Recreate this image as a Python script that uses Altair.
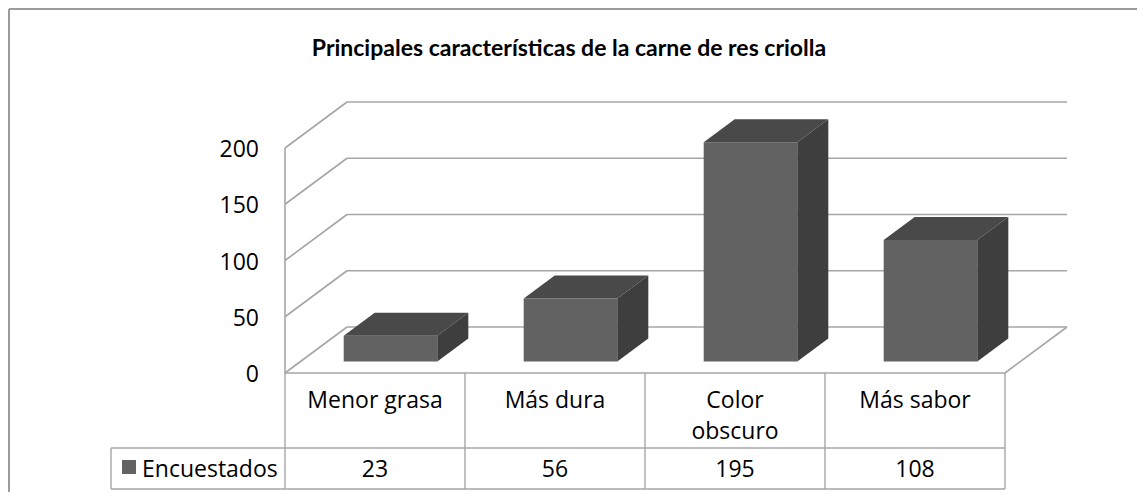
import altair as alt
import pandas as pd

# ---------------- data ----------------
categories = ["Menor grasa", "Más dura", "Color obscuro", "Más sabor"]
category_lines = ["Menor grasa", "Más dura", "Color\nobscuro", "Más sabor"]
values = [23, 56, 195, 108]
series_name = "Encuestados"
y_ticks = [0, 50, 100, 150, 200]
title_text = "Principales características de la carne de res criolla"

# ---------------- layout (pixels) ----------------
W, H = 1129, 484            # plot area (page offset 8px)
PX_PER_CAT = 180.0          # width of one category on the front plane
PX_PER_UNIT = 1.125         # pixels per value unit
ORIGIN_X = 285 - 8          # front axis position
ORIGIN_Y = 373 - 8          # zero line position
DEPTH_PX = (62, 46)         # oblique depth of the floor
BAR_W = 0.52                # bar width as share of a category

FONT = "Open Sans"
GRID = "#a6a6a6"
FRONT, TOP, SIDE = "#626262", "#494949", "#3e3e3e"

def xp(page_px):
    return (page_px - 8 - ORIGIN_X) / PX_PER_CAT

def yp(page_py):
    return (ORIGIN_Y - (page_py - 8)) / PX_PER_UNIT

x_dom = [-ORIGIN_X / PX_PER_CAT, (W - ORIGIN_X) / PX_PER_CAT]
y_dom = [-(H - ORIGIN_Y) / PX_PER_UNIT, ORIGIN_Y / PX_PER_UNIT]
xs = alt.Scale(domain=x_dom, nice=False, zero=False)
ys = alt.Scale(domain=y_dom, nice=False, zero=False)

DX = DEPTH_PX[0] / PX_PER_CAT
DY = DEPTH_PX[1] / PX_PER_UNIT
n = len(categories)

X = lambda f="x": alt.X(f"{f}:Q", scale=xs, axis=None)
Y = lambda f="y": alt.Y(f"{f}:Q", scale=ys, axis=None)

# ---------------- grid / walls ----------------
grid = []
for t in y_ticks:
    grid.append(dict(x=DX, y=t + DY, x2=n + DX, y2=t + DY))
    grid.append(dict(x=0, y=t, x2=DX, y2=t + DY))
grid.append(dict(x=0, y=0, x2=0, y2=y_ticks[-1]))
grid.append(dict(x=n, y=0, x2=n + DX, y2=DY))
grid_df = pd.DataFrame(grid)

# ---------------- table lines ----------------
y_row = yp(448)
y_bot = yp(489)
x_leg = xp(111)
tab = [dict(x=0, y=0, x2=n, y2=0),
       dict(x=x_leg, y=y_row, x2=n, y2=y_row),
       dict(x=x_leg, y=y_bot, x2=n, y2=y_bot),
       dict(x=x_leg, y=y_row, x2=x_leg, y2=y_bot)]
for i in range(n + 1):
    tab.append(dict(x=i, y=0, x2=i, y2=y_bot))
tab_df = pd.DataFrame(tab)

# outer frame (top and left edges visible)
fx = x_dom[0] + 1 / PX_PER_CAT
frame_df = pd.DataFrame([
    dict(x=fx, y=yp(9), x2=x_dom[1], y2=yp(9)),
    dict(x=fx, y=yp(9), x2=fx, y2=y_dom[0]),
])

# ---------------- bars ----------------
front, faces = [], []
d, e = 0.5 * DX, 0.5 * DY
for i, (c, v) in enumerate(zip(categories, values)):
    x0 = i + 0.5 - BAR_W / 2 + 0.25 * DX
    x1 = x0 + BAR_W
    yb = 0.25 * DY
    yt = v + yb
    front.append(dict(cat=c, x=x0, x2=x1, y=yb, y2=yt))
    for xx, lo, hi in [(x0, yt, yt), (x0 + d, yt, yt + e), (x1, yt, yt + e), (x1 + d, yt + e, yt + e)]:
        faces.append(dict(face=f"top{i}", kind="top", x=xx, lo=lo, hi=hi))
    for xx, lo, hi in [(x1, yb, yt), (x1 + d, yb + e, yt + e)]:
        faces.append(dict(face=f"side{i}", kind="side", x=xx, lo=lo, hi=hi))
front_df = pd.DataFrame(front)
top_df = pd.DataFrame([f for f in faces if f["kind"] == "top"])
side_df = pd.DataFrame([f for f in faces if f["kind"] == "side"])

# ---------------- texts ----------------
ylab_df = pd.DataFrame({"x": [xp(259)] * len(y_ticks), "y": y_ticks, "lab": [str(t) for t in y_ticks]})
cat_df = pd.DataFrame({"x": [i + 0.5 for i in range(n)], "y": [yp(408)] * n, "lab": category_lines})
val_df = pd.DataFrame({"x": [i + 0.5 for i in range(n)], "y": [yp(477)] * n, "lab": [str(v) for v in values]})
leg_sq_df = pd.DataFrame({"x": [xp(122)], "x2": [xp(136)], "y": [yp(474)], "y2": [yp(460)]})
leg_df = pd.DataFrame({"x": [xp(142)], "y": [yp(477)], "lab": [series_name]})
title_df = pd.DataFrame({"x": [xp(569)], "y": [yp(56)], "lab": [title_text]})

frame = alt.Chart(frame_df).mark_rule(color="#9b9b9b", strokeWidth=2).encode(
    x=X(), y=Y(), x2="x2:Q", y2="y2:Q")
gridl = alt.Chart(grid_df).mark_rule(color=GRID, strokeWidth=1.6).encode(
    x=X(), y=Y(), x2="x2:Q", y2="y2:Q")
tabl = alt.Chart(tab_df).mark_rule(color=GRID, strokeWidth=1.4).encode(
    x=X(), y=Y(), x2="x2:Q", y2="y2:Q")

front_l = alt.Chart(front_df).mark_rect(color=FRONT).encode(x=X(), x2="x2:Q", y=Y(), y2="y2:Q")
top_l = alt.Chart(top_df).mark_area(color=TOP).encode(x=X(), y=Y("lo"), y2="hi:Q", detail="face:N")
side_l = alt.Chart(side_df).mark_area(color=SIDE).encode(x=X(), y=Y("lo"), y2="hi:Q", detail="face:N")

ylab = alt.Chart(ylab_df).mark_text(align="right", baseline="middle", font=FONT, fontSize=23,
                                    color="#000000", dy=2).encode(x=X(), y=Y(), text="lab:N")
cat_t = alt.Chart(cat_df).mark_text(align="center", baseline="alphabetic", font=FONT, fontSize=23,
                                    color="#000000", lineBreak="\n", lineHeight=31).encode(
    x=X(), y=Y(), text="lab:N")
val_t = alt.Chart(val_df).mark_text(align="center", baseline="alphabetic", font=FONT, fontSize=23,
                                    color="#000000").encode(x=X(), y=Y(), text="lab:N")
leg_sq = alt.Chart(leg_sq_df).mark_rect(color=FRONT).encode(x=X(), x2="x2:Q", y=Y(), y2="y2:Q")
leg_t = alt.Chart(leg_df).mark_text(align="left", baseline="alphabetic", font=FONT, fontSize=23,
                                    color="#000000").encode(x=X(), y=Y(), text="lab:N")
title_t = alt.Chart(title_df).mark_text(align="center", baseline="alphabetic", font="Lato",
                                        fontWeight="bold", fontSize=23, color="#000000").encode(
    x=X(), y=Y(), text="lab:N")

chart = alt.layer(frame, gridl, front_l, top_l, side_l, tabl, ylab, cat_t, val_t,
                  leg_sq, leg_t, title_t).properties(
    width=W, height=H, padding=0, background="white",
    autosize=alt.AutoSizeParams(type="none")
).configure_view(stroke=None)

chart.save("out.html", embed_options={"renderer": "svg", "actions": False})
